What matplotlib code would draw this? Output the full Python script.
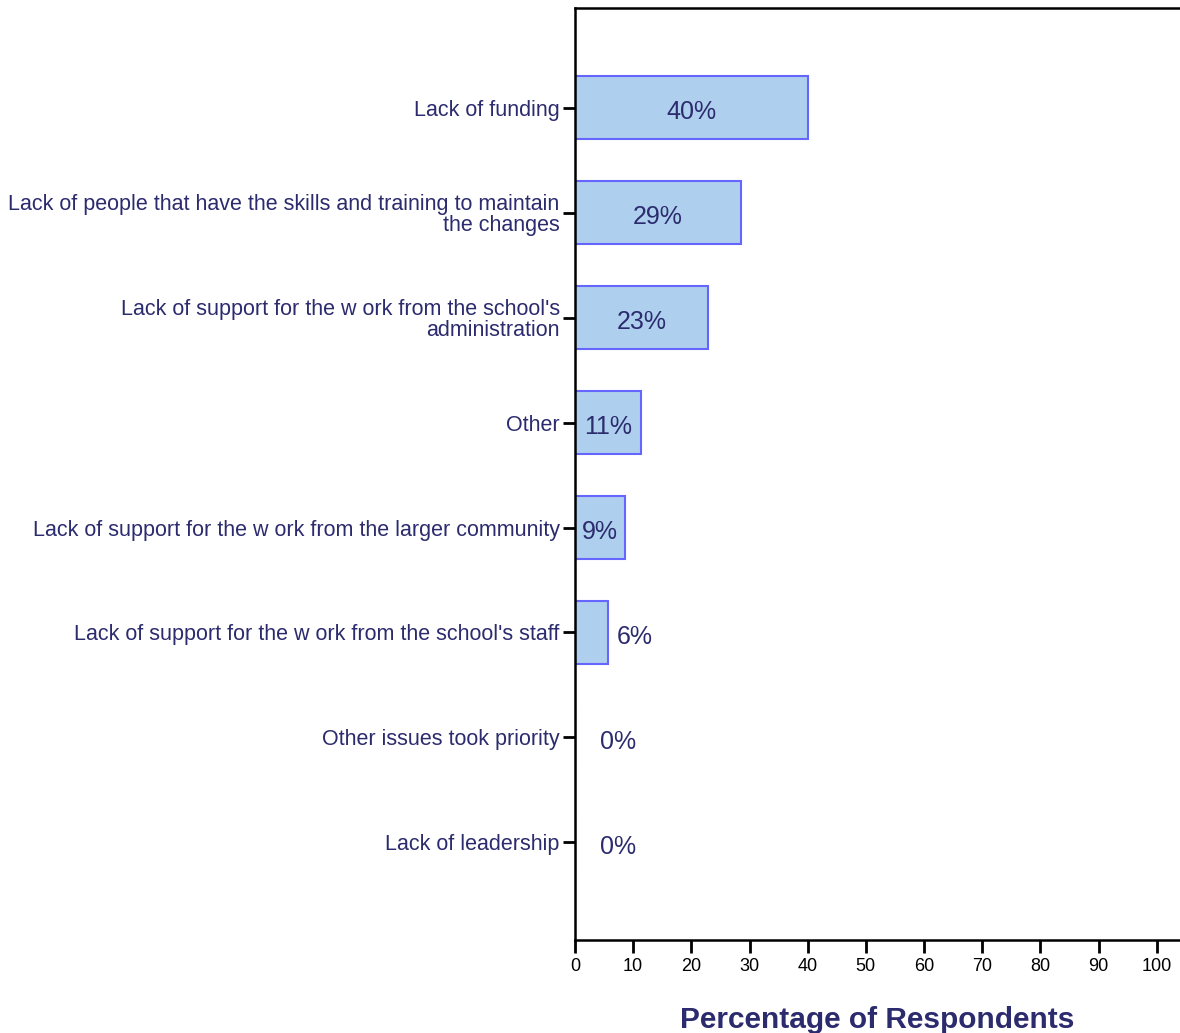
import matplotlib
matplotlib.use('Agg')
import matplotlib.pyplot as plt
import numpy as np

categories = [
    'Lack of funding',
    'Lack of people that have the skills and training to maintain\nthe changes',
    "Lack of support for the w ork from the school's\nadministration",
    'Other',
    'Lack of support for the w ork from the larger community',
    "Lack of support for the w ork from the school's staff",
    'Other issues took priority',
    'Lack of leadership',
]
values = [40, 28.5, 22.9, 11.3, 8.6, 5.7, 0, 0]
value_labels = ['40%', '29%', '23%', '11%', '9%', '6%', '0%', '0%']

navy = '#2b2b6e'
plt.rcParams['font.family'] = ['Liberation Sans', 'DejaVu Sans']

fig = plt.figure(figsize=(11.8, 10.33), dpi=100, facecolor='w')
ax = fig.add_axes([0.4873, 0.09, 0.5127, 0.9023])

y = np.arange(len(categories))
ax.barh(y, values, height=0.6, color='#aed0ee', edgecolor='#6666ff', linewidth=1.5)

for yi, v, lab in zip(y, values, value_labels):
    if v > 8:
        ax.text(v / 2, yi + 0.04, lab, ha='center', va='center', fontsize=18, color=navy)
    else:
        x = v + 1.5 if v > 0 else 4.3
        ax.text(x, yi + 0.04, lab, ha='left', va='center', fontsize=18, color=navy)

ax.set_xlim(0, 104)
ax.set_ylim(7.93, -0.95)
ax.set_xticks(np.arange(0, 101, 10))
ax.set_yticks(y)
ax.set_yticklabels(categories, fontsize=15.5, color=navy, linespacing=1.0)
ax.tick_params(axis='x', labelsize=13, length=9, width=2, colors='black', pad=4)
ax.tick_params(axis='y', length=9, width=2, pad=2)
for lbl in ax.get_yticklabels():
    lbl.set_color(navy)

for s in ['left', 'bottom', 'top']:
    ax.spines[s].set_linewidth(1.8)
ax.spines['right'].set_visible(False)

ax.set_xlabel('Percentage of Respondents', fontsize=21.5, fontweight='bold', color=navy, labelpad=22)

fig.savefig('out.png', dpi=100)
